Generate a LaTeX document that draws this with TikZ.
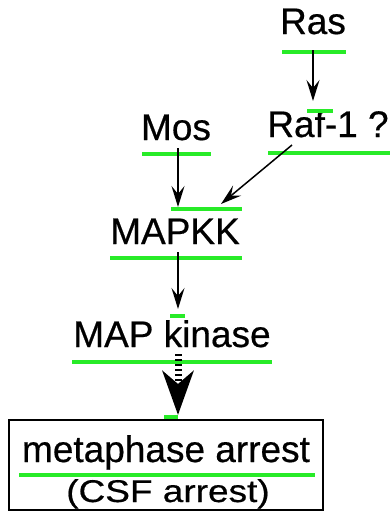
\documentclass[tikz,border=0pt]{standalone}
\usepackage{fontspec}
\setmainfont{Liberation Sans}[FakeBold=0.5]
\usetikzlibrary{arrows.meta}
\definecolor{hl}{RGB}{40,235,40}
\begin{document}
\begin{tikzpicture}[x=1pt,y=-1pt,
  lbl/.style={inner sep=0pt, anchor=base, font=\fontsize{37}{40}\selectfont},
  hlbar/.style={draw=hl, line width=4pt},
  conn/.style={draw=black, line width=1.5pt, -{Stealth[length=21pt,width=13pt,inset=8pt]}},
  bigconn/.style={draw=black, line width=7pt, dash pattern=on 2pt off 3pt, -{Stealth[length=44pt,width=31pt,inset=13pt]}},
  framebox/.style={draw=black, line width=1.5pt}]
\useasboundingbox (0,0) rectangle (390,512);
% labels
\node[lbl] (ras) at (313,34) {Ras};
\node[lbl] (raf) at (328,137) {Raf-1 ?};
\node[lbl] (mos) at (176,140) {Mos};
\node[lbl] (mapkk) at (175,244) {MAPKK};
\node[lbl] (mapk) at (172,347) {MAP kinase};
\node[lbl] (meta) at (166,462) {metaphase arrest};
\node[lbl] (csf) at (168,502) {\scalebox{1}[0.85]{(CSF arrest)}};
% box
\draw[framebox] (9,420) rectangle (323,510);
% green bars
\draw[hlbar] (282,52) -- (346,52);
\draw[hlbar] (307,111) -- (333,111);
\draw[hlbar] (268,153) -- (390,153);
\draw[hlbar] (142,154) -- (211,154);
\draw[hlbar] (171,209) -- (242,209);
\draw[hlbar] (110,258) -- (242,258);
\draw[hlbar] (170,316) -- (185,316);
\draw[hlbar] (72,362) -- (272,362);
\draw[hlbar] (164,417) -- (178,417);
\draw[hlbar] (19,475) -- (315,475);
% connector endpoints
\coordinate (rasout) at (313,50);
\coordinate (rafin) at (313,101);
\coordinate (rafout) at (292,145);
\coordinate (mosout) at (178,148);
\coordinate (mapkkin1) at (178,207);
\coordinate (mapkkin2) at (221,204);
\coordinate (mapkkout) at (178,252);
\coordinate (mapkin) at (178,309);
\coordinate (mapkout) at (178,354);
\coordinate (metain) at (178,415);
% connectors
\draw[conn] (rasout) -- (rafin);
\draw[conn] (rafout) -- (mapkkin2);
\draw[conn] (mosout) -- (mapkkin1);
\draw[conn] (mapkkout) -- (mapkin);
\draw[bigconn] (mapkout) -- (metain);
\end{tikzpicture}
\end{document}
